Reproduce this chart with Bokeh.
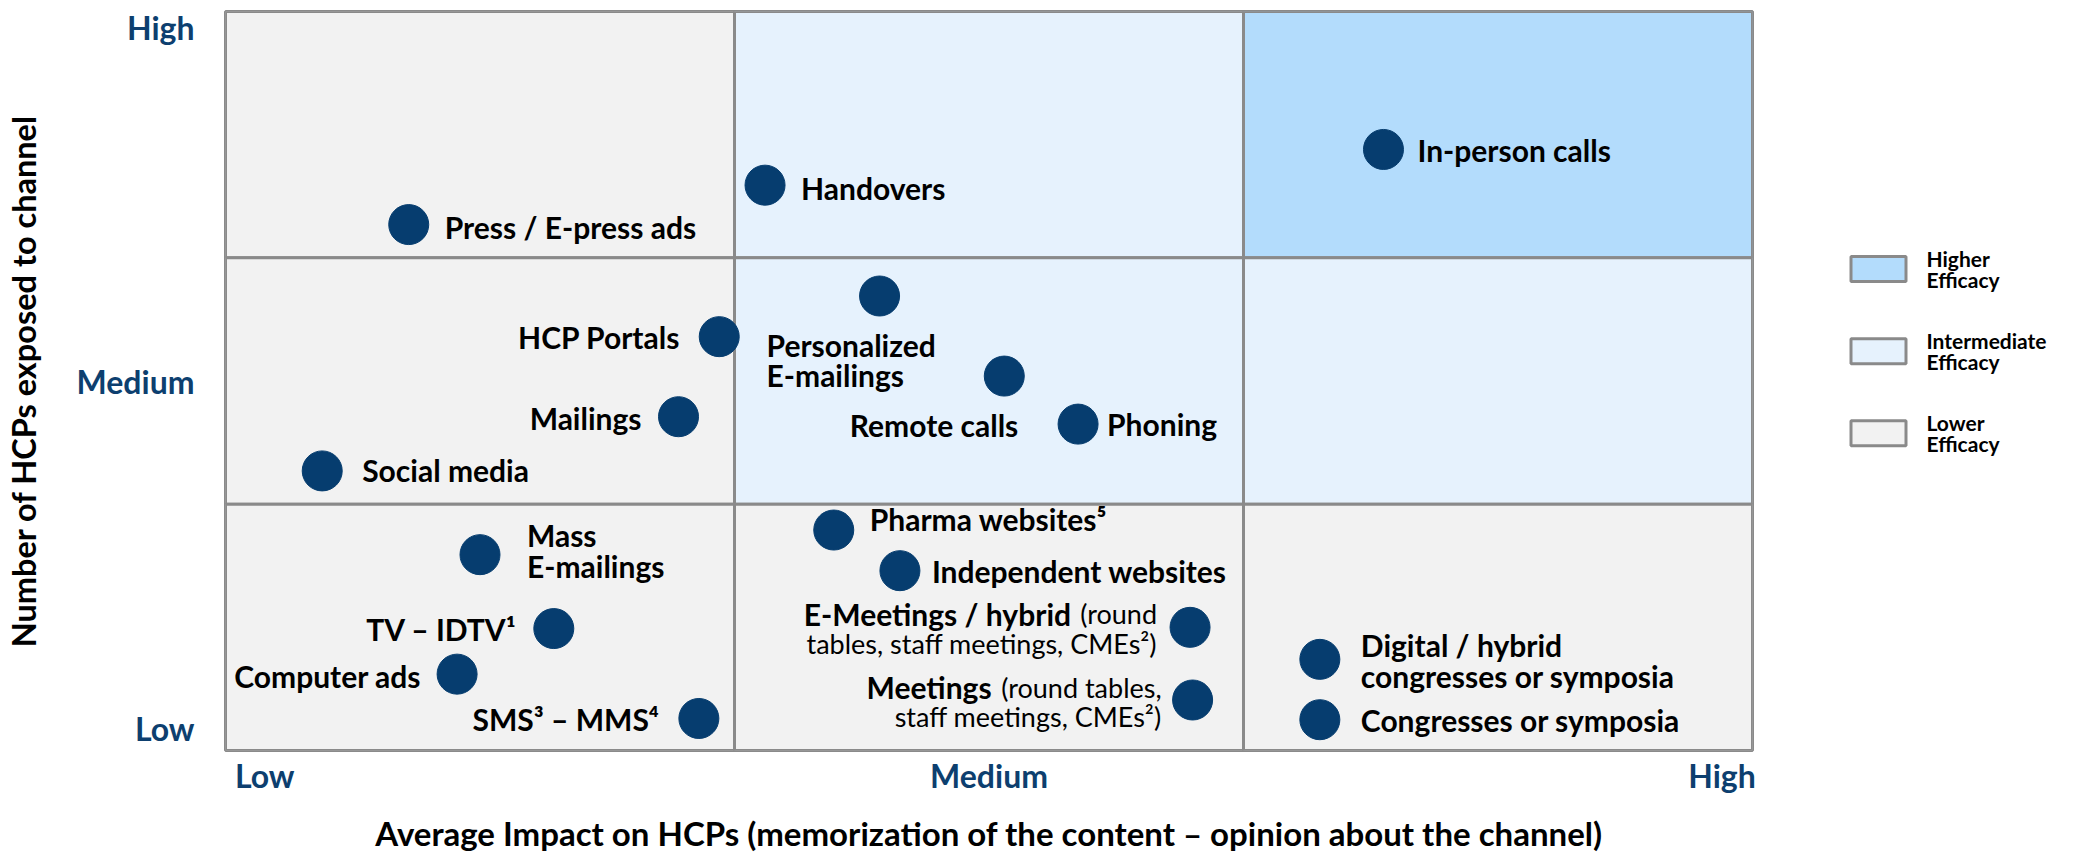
from bokeh.plotting import figure
from bokeh.models import FixedTicker, Range1d, ColumnDataSource, CustomJSTickFormatter
from bokeh.layouts import row
from bokeh.embed import file_html
from bokeh.resources import INLINE
from bokeh.core.properties import value

# ---------------- data ----------------
channels = ["Press / E-press ads", "Handovers", "In-person calls", "HCP Portals",
            "Personalized\nE-mailings", "Remote calls", "Phoning", "Mailings",
            "Social media", "Mass\nE-mailings", "TV \u2013 IDTV\u00b9", "Computer ads",
            "SMS\u00b3 \u2013 MMS\u2074", "Pharma websites\u2075", "Independent websites",
            "E-Meetings / hybrid", "Meetings",
            "Digital / hybrid\ncongresses or symposia", "Congresses or symposia"]
channel_notes = ["", "", "", "", "", "", "", "", "", "", "", "", "", "", "",
                 "(round\ntables, staff meetings, CMEs\u00b2)",
                 "(round tables,\nstaff meetings, CMEs\u00b2)", "", ""]
impact = [0.36, 1.06, 2.275, 0.97, 1.285, 1.53, 1.675, 0.89, 0.19, 0.50, 0.645,
          0.455, 0.93, 1.195, 1.325, 1.895, 1.90, 2.15, 2.15]
exposure = [2.135, 2.295, 2.44, 1.68, 1.845, 1.52, 1.325, 1.355, 1.135, 0.795,
            0.495, 0.31, 0.13, 0.895, 0.73, 0.50, 0.205, 0.37, 0.125]

level_labels = ["Low", "Medium", "High"]
efficacy_levels = ["Higher", "Intermediate", "Lower"]
efficacy_labels = ["Higher\nEfficacy", "Intermediate\nEfficacy", "Lower\nEfficacy"]
efficacy_colors = {"Higher": "#b3dcfc", "Intermediate": "#e6f2fd", "Lower": "#f2f2f2"}
# zone grid: impact column (0..2) x exposure row (0..2)
zone_col = [0, 1, 2, 0, 1, 2, 0, 1, 2]
zone_row = [2, 2, 2, 1, 1, 1, 0, 0, 0]
zone_efficacy = ["Lower", "Intermediate", "Higher",
                 "Lower", "Intermediate", "Intermediate",
                 "Lower", "Lower", "Lower"]

x_title = "Average Impact on HCPs (memorization of the content \u2013 opinion about the channel)"
y_title = "Number of HCPs exposed to channel"

# ---------------- layout / style (pixels) ----------------
DOT = "#063d6f"
GRID = "#8a8a8a"
TICK = "#0d3f6f"
FONT = "Lato"
LBL = "30px"
NOTE = "27px"
# label placement per channel: (align, dx, dy)
place = [("left", 36, 2), ("left", 36, 3), ("left", 34, 1), ("right", -39, 0),
         ("left", -113, 64), ("right", 14, 49), ("left", 29, 0), ("right", -37, 1),
         ("left", 40, -1), ("left", 47, -4), ("right", -37, 0), ("right", -36, 2),
         ("right", -40, 1), ("left", 36, -11), ("left", 32, 0),
         ("right", -119, -13), ("right", -201, -13), ("left", 41, 1), ("left", 41, 0)]
note_place = {15: ("right", -33, 1), 16: ("right", -31, 2)}

W_MAIN, W_LEG, H = 1788, 280, 855

p = figure(width=W_MAIN, height=H, x_range=Range1d(0, 3), y_range=Range1d(0, 3),
           toolbar_location=None, output_backend="svg",
           min_border_left=225, min_border_right=36, min_border_top=11, min_border_bottom=101)
p.grid.visible = False
p.outline_line_color = GRID
p.outline_line_width = 3

zones = ColumnDataSource(dict(
    left=zone_col, right=[c + 1 for c in zone_col],
    bottom=zone_row, top=[r + 1 for r in zone_row],
    color=[efficacy_colors[e] for e in zone_efficacy]))
p.quad(left="left", right="right", bottom="bottom", top="top", fill_color="color",
       line_color=GRID, line_width=3, source=zones)

p.scatter(impact, exposure, size=40, color=DOT)

pts = ColumnDataSource(dict(
    x=impact, y=exposure, text=channels,
    align=[a for a, _, _ in place], dx=[d for _, d, _ in place], dy=[d for _, _, d in place]))
p.text(x="x", y="y", text="text", source=pts, x_offset="dx", y_offset="dy",
       text_align="align", text_baseline="middle", text_font=value(FONT),
       text_font_style="bold", text_font_size=LBL, text_color="black", text_line_height=0.85)

ni = [i for i in range(len(channels)) if channel_notes[i]]
notes = ColumnDataSource(dict(
    x=[impact[i] for i in ni], y=[exposure[i] for i in ni], text=[channel_notes[i] for i in ni],
    align=[note_place[i][0] for i in ni], dx=[note_place[i][1] for i in ni],
    dy=[note_place[i][2] for i in ni]))
p.text(x="x", y="y", text="text", source=notes, x_offset="dx", y_offset="dy",
       text_align="align", text_baseline="middle", text_font=value(FONT),
       text_font_style="normal", text_font_size=NOTE, text_color="black", text_line_height=0.9)

fmt = CustomJSTickFormatter(args=dict(labels=level_labels), code="return labels[index];")
for ax, ticks in ((p.xaxis, [0.077, 1.5, 2.94]), (p.yaxis, [0.09, 1.5, 2.935])):
    ax.ticker = FixedTicker(ticks=ticks)
    ax.formatter = fmt
    ax.axis_line_color = None
    ax.major_tick_line_color = None
    ax.minor_tick_line_color = None
    ax.major_tick_out = 0
    ax.major_tick_in = 0
    ax.major_label_text_font = FONT
    ax.major_label_text_font_style = "bold"
    ax.major_label_text_font_size = "32px"
    ax.major_label_text_color = TICK
    ax.axis_label_text_font = FONT
    ax.axis_label_text_font_style = "bold"
    ax.axis_label_text_color = "black"
p.xaxis.axis_label = x_title
p.yaxis.axis_label = y_title
p.xaxis.axis_label_text_font_size = "33px"
p.yaxis.axis_label_text_font_size = "32.5px"
p.xaxis.major_label_standoff = 5
p.xaxis.axis_label_standoff = 15
p.yaxis.major_label_standoff = 31
p.yaxis.axis_label_standoff = 31

# ---------------- legend panel ----------------
leg = figure(width=W_LEG, height=H, x_range=Range1d(0, W_LEG), y_range=Range1d(H, 0),
             toolbar_location=None, output_backend="svg", min_border=0,
             x_axis_location=None, y_axis_location=None)
leg.grid.visible = False
leg.outline_line_color = None
LEG_TOP, LEG_STEP = 298, 95
cy = [LEG_TOP + i * LEG_STEP for i in range(len(efficacy_levels))]
leg.rect(x=[90] * 3, y=cy, width=55, height=29,
         fill_color=[efficacy_colors[e] for e in efficacy_levels], line_color=GRID, line_width=3)
leg.text(x=[138] * 3, y=cy, text=efficacy_labels, text_align="left", text_baseline="middle",
         text_font=value(FONT), text_font_style="bold", text_font_size="21px",
         text_color="black", text_line_height=0.85)

layout = row(p, leg)
open("out.html", "w").write(file_html(layout, INLINE))
